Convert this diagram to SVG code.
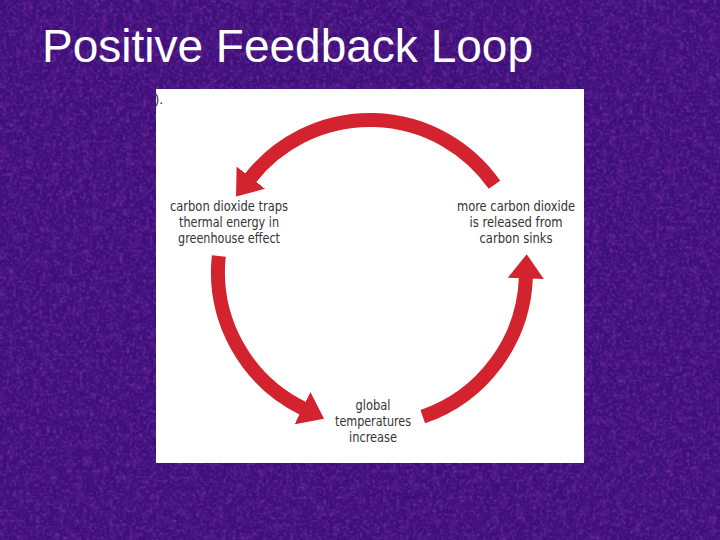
<svg xmlns="http://www.w3.org/2000/svg" width="720" height="540" viewBox="0 0 720 540">
  <defs>
    <filter id="tex" x="0" y="0" width="100%" height="100%">
      <feTurbulence type="fractalNoise" baseFrequency="0.3" numOctaves="3" seed="4" result="n"/>
      <feColorMatrix in="n" type="matrix" values="0 0 0 0 0.36  0 0 0 0 0.1  0 0 0 0 0.6  0 0 0 1.8 -0.85"/>
    </filter>
    <filter id="tex2" x="0" y="0" width="100%" height="100%">
      <feTurbulence type="fractalNoise" baseFrequency="0.12" numOctaves="2" seed="9" result="n"/>
      <feColorMatrix in="n" type="matrix" values="0 0 0 0 0.16  0 0 0 0 0.02  0 0 0 0 0.32  0 0 0 1.6 -0.7"/>
    </filter>
    <marker id="head" markerUnits="userSpaceOnUse" viewBox="0 0 24 36" refX="1" refY="18" markerWidth="24" markerHeight="36" orient="auto">
      <path d="M0,0 L24,18 L0,36 Z" fill="#d3232f"/>
    </marker>
    <clipPath id="panelClip"><rect x="156" y="89" width="428" height="374"/></clipPath>
  </defs>
  <style>
    .arrow { fill: none; stroke: #d3232f; stroke-width: 14; stroke-linecap: butt; marker-end: url(#head); }
    .lbl { font-family: "Liberation Sans Narrow", "DejaVu Sans Condensed", "Liberation Sans", sans-serif; font-size: 14px; fill: #333333; text-anchor: middle; }
    .title { font-family: "Liberation Sans", Arial, sans-serif; font-size: 46px; fill: #ffffff; }
  </style>
  <rect x="0" y="0" width="720" height="540" fill="#3e0f7a"/>
  <rect x="0" y="0" width="720" height="540" filter="url(#tex2)" opacity="0.7"/>
  <rect x="0" y="0" width="720" height="540" filter="url(#tex)" opacity="0.5"/>
  <text class="title" x="42" y="62">Positive Feedback Loop</text>
  <g id="panel">
    <rect x="156" y="89" width="428" height="374" fill="#ffffff"/>
    <text x="154.5" y="104" clip-path="url(#panelClip)" font-family="Liberation Sans, sans-serif" font-size="14" fill="#333333">).</text>
  </g>
  <g id="connectors">
    <path class="arrow" d="M 494.5 184.8 A 152 152 0 0 0 250.2 178.4"/>
    <path class="arrow" d="M 218.8 256.1 A 152 152 0 0 0 303.4 408.6"/>
    <path class="arrow" d="M 422.8 416.7 A 153 153 0 0 0 525.9 277.3"/>
  </g>
  <g id="node-traps">
    <text class="lbl" x="229" y="211" textLength="118" lengthAdjust="spacingAndGlyphs">carbon dioxide traps</text>
    <text class="lbl" x="229" y="227" textLength="100" lengthAdjust="spacingAndGlyphs">thermal energy in</text>
    <text class="lbl" x="229" y="243" textLength="102" lengthAdjust="spacingAndGlyphs">greenhouse effect</text>
  </g>
  <g id="node-released">
    <text class="lbl" x="516" y="211" textLength="118" lengthAdjust="spacingAndGlyphs">more carbon dioxide</text>
    <text class="lbl" x="516" y="227" textLength="93" lengthAdjust="spacingAndGlyphs">is released from</text>
    <text class="lbl" x="516" y="243" textLength="73" lengthAdjust="spacingAndGlyphs">carbon sinks</text>
  </g>
  <g id="node-temperatures">
    <text class="lbl" x="373" y="410" textLength="35" lengthAdjust="spacingAndGlyphs">global</text>
    <text class="lbl" x="373" y="426" textLength="76" lengthAdjust="spacingAndGlyphs">temperatures</text>
    <text class="lbl" x="373" y="442" textLength="48" lengthAdjust="spacingAndGlyphs">increase</text>
  </g>
</svg>
